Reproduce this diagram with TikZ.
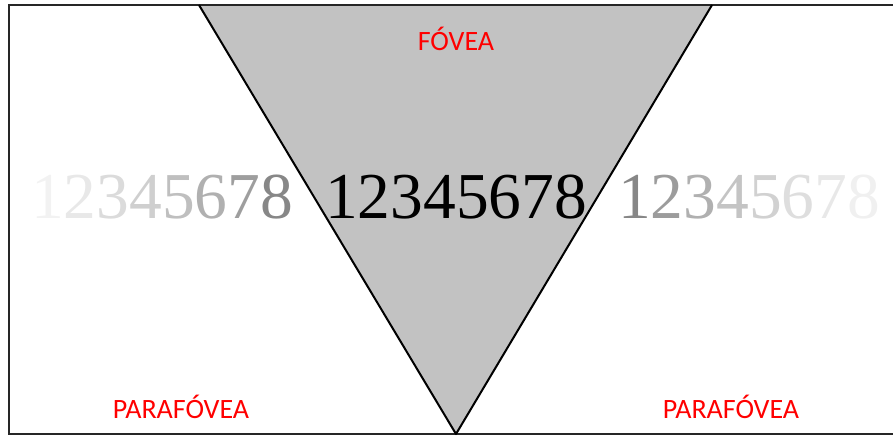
\documentclass[tikz,border=0pt]{standalone}
\usepackage{fontspec}
\setmainfont{Liberation Serif}
\newfontfamily\labelfont{Carlito}
\begin{document}
\begin{tikzpicture}[x=1pt,y=-1pt,
  digits/.style={anchor=base,inner sep=0pt,font=\fontsize{65.5}{66}\selectfont},
  zone/.style={anchor=base,inner sep=0pt,text=red,font=\labelfont\fontsize{28}{28}\selectfont},
  frame/.style={line width=2pt,draw=black!85},
  cone/.style={line width=2pt,draw=black,line join=round}]
\useasboundingbox (0,0) rectangle (893,436);
\coordinate (tl) at (199,5);
\coordinate (tr) at (712,5);
\coordinate (bv) at (456,434);
\fill[black!24] (tl) -- (tr) -- (bv) -- cycle;
\draw[frame] (893,5) -- (9,5) -- (9,434) -- (893,434);
\draw[cone] (tl) -- (bv) -- (tr);
\node[digits] (left) at (162,218) {{\color{black!5}1}{\color{black!9}2}{\color{black!14}3}{\color{black!19}4}{\color{black!25}5}{\color{black!31}6}{\color{black!38}7}{\color{black!47}8}};
\node[digits] (center) at (456,218) {12345678};
\node[digits] (right) at (749,218) {{\color{black!47}1}{\color{black!39}2}{\color{black!31}3}{\color{black!23}4}{\color{black!18}5}{\color{black!13}6}{\color{black!9}7}{\color{black!6}8}};
\node[zone] (fovea) at (456,50) {FÓVEA};
\node[zone] (paraL) at (181,418) {PARAFÓVEA};
\node[zone] (paraR) at (731,418) {PARAFÓVEA};
\end{tikzpicture}
\end{document}
